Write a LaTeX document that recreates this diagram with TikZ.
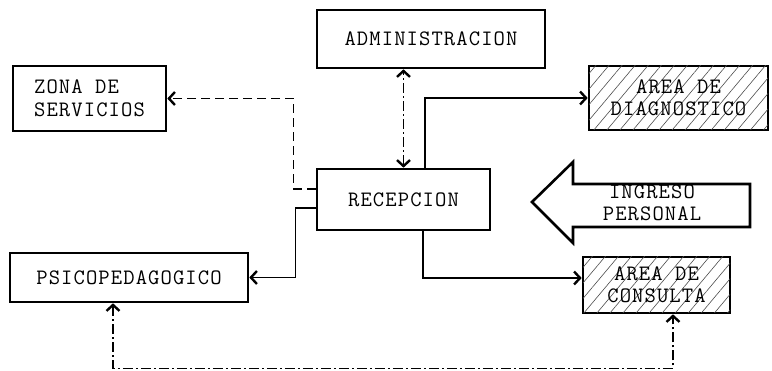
\documentclass[tikz,border=0pt]{standalone}
\usepackage{fontspec}
\setmonofont[LetterSpace=5]{Latin Modern Mono}
\usetikzlibrary{arrows.meta,patterns.meta,calc}
\begin{document}
\begin{tikzpicture}[x=1pt,y=-1pt,
  every node/.style={font=\ttfamily\fontsize{22}{22.5}\selectfont, inner sep=0pt},
  box/.style={draw, line width=2.6pt, align=center},
  hatched/.style={box, postaction={pattern={Lines[angle=50,distance=10pt,line width=0.6pt]}, pattern color=black!70}},
  tip/.style={-{Straight Barb[length=6pt,width=13pt,line width=2.4pt]}},
  tips/.style={{Straight Barb[length=6pt,width=13pt,line width=2.4pt]}-{Straight Barb[length=6pt,width=13pt,line width=2.4pt]}},
  con/.style={line width=1.4pt},
  dashcon/.style={con, dash pattern=on 9pt off 5pt},
  dotcon/.style={con, dash pattern=on 10pt off 3pt on 2pt off 3pt}]
\useasboundingbox (0,0) rectangle (772,371);
\node[box, minimum width=228pt, minimum height=58pt] (admin) at (431,39) {ADMINISTRACION};
\node[box, minimum width=153pt, minimum height=65pt, align=left] (zona) at (89.5,98.5) {ZONA DE\\SERVICIOS};
\node[hatched, minimum width=179pt, minimum height=64pt] (diag) at (678.5,98) {AREA DE\\DIAGNOSTICO};
\node[box, minimum width=173pt, minimum height=61pt] (recep) at (403.5,199.5) {RECEPCION};
\node[hatched, minimum width=147pt, minimum height=56pt] (consulta) at (656.5,285) {AREA DE\\CONSULTA};
\node[box, minimum width=238pt, minimum height=49pt] (psico) at (129,277.5) {PSICOPEDAGOGICO};
% ingreso personal arrow
\draw[line width=2.6pt, line join=miter] (750,184) -- (573,184) -- (573,162) -- (532,202) -- (573,243) -- (573,227) -- (750,227) -- cycle;
\node[align=center] (ingreso) at (652,203) {INGRESO\\PERSONAL};
% connectors
\draw[dashcon, tip] ([yshift=10.5pt]recep.west) -- ++(-22,0) |- (zona.east);
\draw[con, tip] ([yshift=-8.5pt]recep.west) -- ++(-20,0) |- (psico.east);
\draw[dotcon, tips] (recep.north) -- (recep.north |- admin.south);
\draw[con, tip] ([xshift=21.5pt]recep.north) |- (diag.west);
\draw[con, tip] ([xshift=19.5pt]recep.south) |- ([yshift=7pt]consulta.west);
\draw[dotcon, tips] ([xshift=-16pt]psico.south) -- ++(0,65) -| ([xshift=16.5pt]consulta.south);
\end{tikzpicture}
\end{document}
